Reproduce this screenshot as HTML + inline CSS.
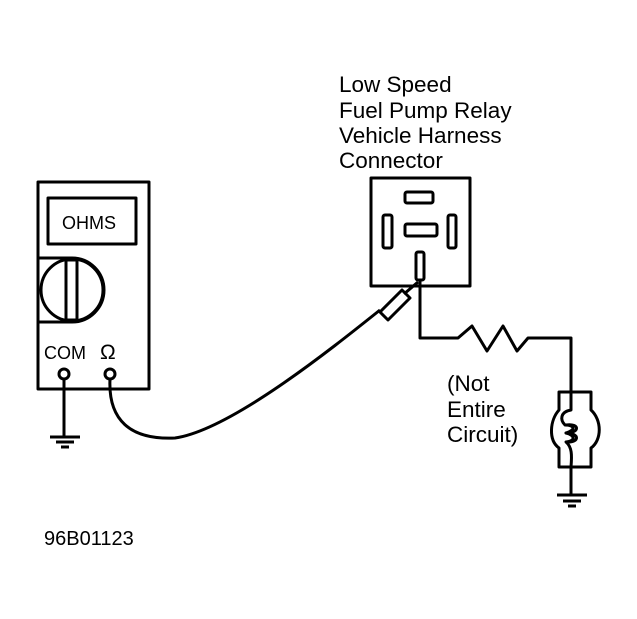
<!DOCTYPE html>
<html><head><style>html,body{margin:0;padding:0;background:#fff}svg{display:block}</style></head>
<body>
<svg width="637" height="619" viewBox="0 0 637 619" xmlns="http://www.w3.org/2000/svg" font-family="Liberation Sans, sans-serif">
<g fill="none" stroke="#000" stroke-width="3" stroke-linejoin="round">
<rect x="38" y="182" width="111" height="207"/>
<rect x="48" y="198" width="88" height="46"/>
<path d="M38 258 H72 A32 32 0 1 1 72 322 H38"/>
<circle cx="72" cy="290" r="31"/>
<rect x="66" y="260" width="11" height="60" stroke-width="3"/>
<circle cx="64" cy="374" r="5"/>
<circle cx="110" cy="374" r="5"/>
<path d="M64 379 V437 M50 437 H80 M56 442 H74 M61 447 H69"/>
<path d="M110 379 C108 420 130 440 175 438 C230 430 330 350 380 310"/>
<path d="M380 312 L388 320 L410 298 L402 290 Z"/>
<path d="M404 294 L418 282"/>
<rect x="371" y="178" width="99" height="108"/>
<rect x="405" y="192" width="28" height="11" rx="2"/>
<rect x="383" y="215" width="9" height="33" rx="2"/>
<rect x="405" y="224" width="32" height="12" rx="2"/>
<rect x="448" y="215" width="8" height="33" rx="2"/>
<rect x="416" y="252" width="8" height="28" rx="2"/>
<path d="M420 280 V338 H458 L472 326 L487 351 L503 326 L517 351 L528 338 H571 V392"/>
<path d="M571 392 H559 V410 C550 420 548 440 559 448 V467 H591 V448 C602 440 602 420 591 410 V392 H571"/>
<path d="M571 392 V410 C560 412 560 420 565 425 C575 425 576 430 566 433 C575 435 576 441 566 442 C572 447 572 455 571 467 V495"/>
<path d="M566 425 C580 423 580 433 566 433 C580 433 580 443 566 442"/>
<path d="M557 495 H587 M563 501 H581 M568 506 H576"/>
</g>
<g fill="#000" font-size="22.5">
<text x="339" y="92">Low Speed</text>
<text x="339" y="118">Fuel Pump Relay</text>
<text x="339" y="143">Vehicle Harness</text>
<text x="339" y="168">Connector</text>
<text x="447" y="391">(Not</text>
<text x="447" y="417">Entire</text>
<text x="447" y="442">Circuit)</text>
<text x="44" y="545" font-size="20">96B01123</text>
<text x="62" y="229" font-size="18">OHMS</text>
<text x="44" y="359" font-size="18">COM</text>
<text x="100" y="359" font-size="21">Ω</text>
</g>
</svg>
</body></html>
